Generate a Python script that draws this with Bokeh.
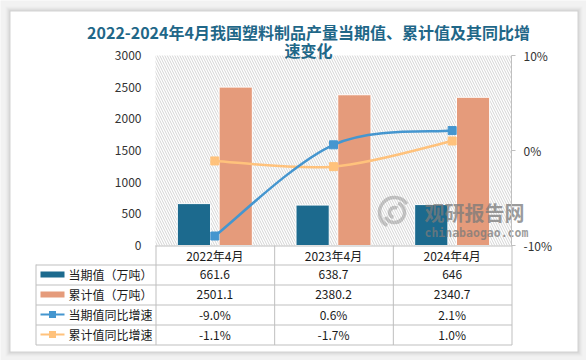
from bokeh.plotting import figure
from bokeh.models import Range1d, LinearAxis, FixedTicker, BoxAnnotation, ColumnDataSource
from bokeh.embed import file_html
from bokeh.resources import INLINE
from bokeh.core.properties import value

# ---------------- data ----------------
categories = ["2022年4月", "2023年4月", "2024年4月"]
current_vals = [661.6, 638.7, 646.0]          # 当期值（万吨）
cumulative_vals = [2501.1, 2380.2, 2340.7]    # 累计值（万吨）
current_yoy = [-9.0, 0.6, 2.1]                # 当期值同比增速 %
cumulative_yoy = [-1.1, -1.7, 1.0]            # 累计值同比增速 %
series_names = ["当期值（万吨）", "累计值（万吨）", "当期值同比增速", "累计值同比增速"]
left_ticks = [0, 500, 1000, 1500, 2000, 2500, 3000]
right_ticks = [-10, 0, 10]
title_line1 = "2022-2024年4月我国塑料制品产量当期值、累计值及其同比增"
title_line2 = "速变化"

# ---------------- style / layout (canvas pixels) ----------------
C_BLUE = "#1c6a8e"
C_ORANGE = "#e59b7b"
C_LBLUE = "#4596cf"
C_LORANGE = "#ffc27c"
GRID = "#bfbfbf"
FONT = "Noto Sans CJK SC"
TXT = "#1a1a1a"

W, H = 586, 360
CARD_L, CARD_R, CARD_T, CARD_B = 10, 577, 11, 351
PL_L, PL_R, PL_T, PL_B = 155, 511, 55, 245        # plot (hatched) area
TAB_L = 35
LMAX, PMIN, PMAX = 3000.0, -10.0, 10.0
ncat = len(categories)
CW = (PL_R - PL_L) / ncat
ypx = LMAX / (PL_B - PL_T)              # value units per pixel (left)
ppx = (PMAX - PMIN) / (PL_B - PL_T)     # pct units per pixel (right)


def X(px):
    return -0.5 + (px - PL_L) / CW


def Y(py):
    return (PL_B - py) * ypx


xs = list(range(ncat))

p = figure(width=W, height=H, frame_width=W, frame_height=H, min_border=0,
           min_border_left=0, min_border_right=0, min_border_top=0, min_border_bottom=0,
           x_range=Range1d(X(0), X(W)), y_range=Range1d(Y(H), Y(0)),
           output_backend="svg", toolbar_location=None, tools="",
           x_axis_type=None, y_axis_type=None)
p.outline_line_color = None
p.background_fill_color = "#f2f2f2"
p.border_fill_color = "#f2f2f2"
p.xgrid.visible = False
p.ygrid.visible = False
p.extra_y_ranges = {"pct": Range1d(PMIN - (H - PL_B) * ppx, PMAX + PL_T * ppx)}

# card with soft shadow (lowest level)
for k, a in ((5, 0.015), (4, 0.02), (3, 0.025), (2, 0.03), (1, 0.04)):
    p.quad(left=[X(CARD_L - k)], right=[X(CARD_R + k)], top=[Y(CARD_T - k)],
           bottom=[Y(CARD_B + k)], fill_color="black", fill_alpha=a, line_color=None,
           level="image")
p.quad(left=[X(CARD_L)], right=[X(CARD_R)], top=[Y(CARD_T)], bottom=[Y(CARD_B)],
       fill_color="white", line_color=None, level="image")

# hatched plot area
p.add_layout(BoxAnnotation(left=-0.5, right=ncat - 0.5, bottom=0, top=LMAX,
                           fill_alpha=0, line_color=None, hatch_pattern="\\",
                           hatch_color="#d4d4d4", hatch_scale=5, hatch_weight=1,
                           level="underlay"))

# left axis
yl = LinearAxis(ticker=FixedTicker(ticks=left_ticks), fixed_location=-0.5)
yl.axis_line_color = None
yl.major_tick_line_color = None
yl.minor_tick_line_color = None
yl.major_tick_out = 0
yl.major_tick_in = 0
yl.major_label_standoff = 14
yl.major_label_text_font = FONT
yl.major_label_text_font_size = "12px"
yl.major_label_text_color = "#333333"
p.add_layout(yl, "left")

# right axis
yr = LinearAxis(y_range_name="pct", ticker=FixedTicker(ticks=right_ticks), bounds=(PMIN, PMAX),
                fixed_location=ncat - 0.5,
                major_label_overrides={t: f"{t}%" for t in right_ticks})
yr.axis_line_color = GRID
yr.major_tick_line_color = GRID
yr.major_tick_out = 4
yr.major_tick_in = 0
yr.minor_tick_line_color = None
yr.major_label_standoff = 8
yr.major_label_text_font = FONT
yr.major_label_text_font_size = "12px"
yr.major_label_text_color = "#333333"
p.add_layout(yr, "right")

# bars
off = 0.176
bw = 0.28
p.vbar(x=[x - off for x in xs], top=current_vals, width=bw, fill_color=C_BLUE,
       line_color="white", line_width=1)
p.vbar(x=[x + off for x in xs], top=cumulative_vals, width=bw, fill_color=C_ORANGE,
       line_color="white", line_width=1)


def smooth(xv, yv):
    n = len(xv)
    d = dict(x0=[], y0=[], x1=[], y1=[], cx0=[], cy0=[], cx1=[], cy1=[])
    for i in range(n - 1):
        a = i - 1 if i > 0 else i
        b = i + 2 if i + 2 < n else i + 1
        d["x0"].append(xv[i]); d["y0"].append(yv[i])
        d["x1"].append(xv[i + 1]); d["y1"].append(yv[i + 1])
        d["cx0"].append(xv[i] + (xv[i + 1] - xv[a]) / 6)
        d["cy0"].append(yv[i] + (yv[i + 1] - yv[a]) / 6)
        d["cx1"].append(xv[i + 1] - (xv[b] - xv[i]) / 6)
        d["cy1"].append(yv[i + 1] - (yv[b] - yv[i]) / 6)
    return ColumnDataSource(d)


for vals, col in ((cumulative_yoy, C_LORANGE), (current_yoy, C_LBLUE)):
    p.bezier(x0="x0", y0="y0", x1="x1", y1="y1", cx0="cx0", cy0="cy0", cx1="cx1", cy1="cy1",
             source=smooth(xs, vals), line_color=col, line_width=2.5, y_range_name="pct")
    p.scatter(x=xs, y=vals, marker="square", size=8, fill_color=col, line_color=col,
              y_range_name="pct")

# watermark
WM = "#7a7a7a"
p.arc(x=[X(394)] * 3, y=[Y(212)] * 3, radius=[15, 10, 5], radius_units="screen",
      start_angle=[0.6, 3.6, 1.0], end_angle=[4.2, 1.2, 4.5], line_color=WM,
      line_alpha=0.4, line_width=3.5)
p.text(x=[X(424)], y=[Y(212)], text=["观研报告网"], text_font=value(FONT),
       text_font_style="bold", text_font_size="20px", text_color=WM,
       text_alpha=0.75, text_baseline="middle")
p.text(x=[X(424)], y=[Y(232)], text=["chinabaogao.com"], text_font=value("DejaVu Sans Mono"),
       text_font_style="bold", text_font_size="11.5px", text_color=WM,
       text_alpha=0.75, text_baseline="middle")

# title
p.text(x=[X(308)] * 2, y=[Y(31), Y(49)], text=[title_line1, title_line2],
       text_font=value(FONT), text_font_style="bold", text_font_size="16px",
       text_color="#1f6788", text_align="center", text_baseline="middle")

# ---------------- data table ----------------
ROW_H = 20
HDR_T = PL_B
rows_t = [PL_B + 19 + k * ROW_H for k in range(5)]   # 264, 284, ... 344
col_edges = [PL_L + k * CW for k in range(ncat + 1)]
# horizontal lines
hy = [HDR_T + 0.5] + [r + 0.5 for r in rows_t]
hx0 = [col_edges[0]] + [TAB_L + 0.5] * len(rows_t)
p.segment(x0=[X(v) for v in hx0], x1=[X(col_edges[-1] + 0.5)] * len(hy),
          y0=[Y(v) for v in hy], y1=[Y(v) for v in hy], line_color=GRID, line_width=1)
# vertical lines
vx = [TAB_L + 0.5] + [e + 0.5 for e in col_edges]
vt = [rows_t[0]] + [HDR_T] * len(col_edges)
p.segment(x0=[X(v) for v in vx], x1=[X(v) for v in vx], y0=[Y(v) for v in vt],
          y1=[Y(rows_t[-1] + 0.5)] * len(vx), line_color=GRID, line_width=1)

# header labels
cx = [X(col_edges[c] + CW / 2) for c in range(ncat)]
p.text(x=cx, y=[Y(HDR_T + 10)] * ncat, text=categories, text_font=value(FONT),
       text_font_size="12px", text_color=TXT, text_align="center", text_baseline="middle")

row_c = [rows_t[k] + ROW_H / 2 for k in range(4)]
KEY_L, KEY_R = 40, 64
# legend keys
p.rect(x=[X((KEY_L + KEY_R) / 2)] * 2, y=[Y(v) for v in row_c[:2]],
       width=(KEY_R - KEY_L) / CW, height=6 * ypx,
       fill_color=[C_BLUE, C_ORANGE], line_color=None)
p.segment(x0=[X(KEY_L)] * 2, x1=[X(KEY_R)] * 2, y0=[Y(v) for v in row_c[2:]],
          y1=[Y(v) for v in row_c[2:]], line_color=[C_LBLUE, C_LORANGE], line_width=2)
p.scatter(x=[X((KEY_L + KEY_R) / 2)] * 2, y=[Y(v) for v in row_c[2:]], marker="square",
          size=7, fill_color=[C_LBLUE, C_LORANGE], line_color=None)
p.text(x=[X(68)] * 4, y=[Y(v) for v in row_c], text=series_names, text_font=value(FONT),
       text_font_size="12px", text_color=TXT, text_baseline="middle")

# values
tx, ty, tt = [], [], []
table_rows = [[f"{v:g}" for v in current_vals],
              [f"{v:g}" for v in cumulative_vals],
              [f"{v:.1f}%" for v in current_yoy],
              [f"{v:.1f}%" for v in cumulative_yoy]]
for r, row in enumerate(table_rows):
    for c, s in enumerate(row):
        tx.append(cx[c])
        ty.append(Y(row_c[r]))
        tt.append(s)
p.text(x=tx, y=ty, text=tt, text_font=value(FONT), text_font_size="12px",
       text_color=TXT, text_align="center", text_baseline="middle")

open("out.html", "w").write(file_html(p, INLINE))
